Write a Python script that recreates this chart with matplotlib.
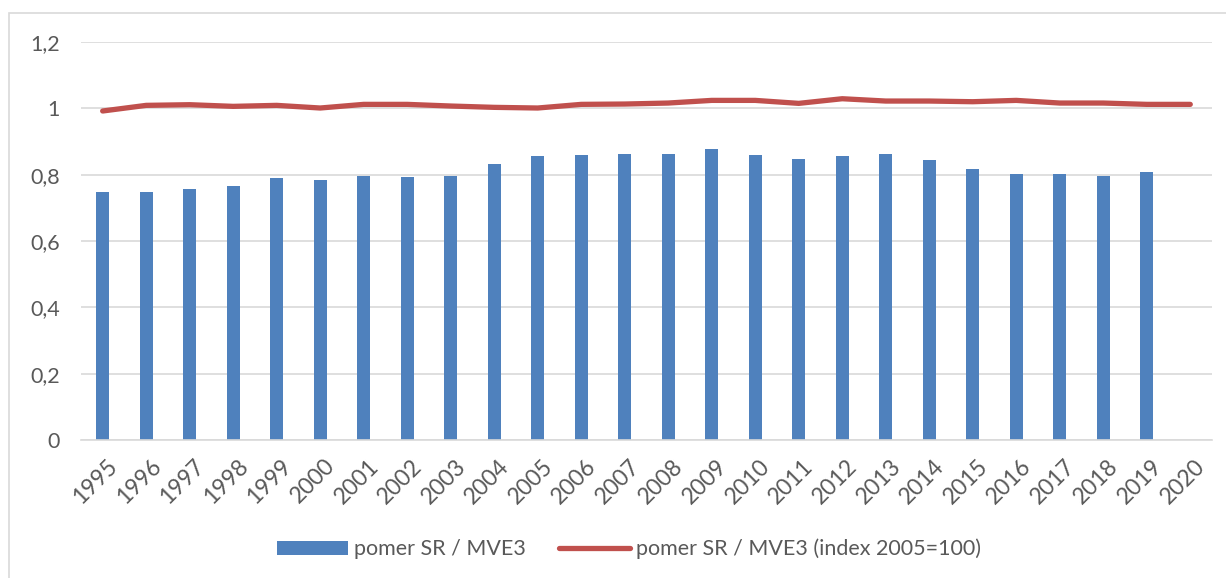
import matplotlib
matplotlib.use("Agg")
import matplotlib.pyplot as plt
from matplotlib.patches import Rectangle
import matplotlib.transforms as mtransforms

years = [str(y) for y in range(1995, 2021)]
ratio = [0.748, 0.747, 0.758, 0.765, 0.790, 0.783, 0.795, 0.794, 0.796, 0.833,
         0.857, 0.859, 0.862, 0.862, 0.877, 0.859, 0.847, 0.857, 0.863, 0.844,
         0.817, 0.801, 0.801, 0.795, 0.809, None]
index_line = [0.992, 1.009, 1.011, 1.006, 1.009, 1.001, 1.012, 1.012, 1.007, 1.003,
              1.001, 1.012, 1.013, 1.016, 1.024, 1.024, 1.015, 1.029, 1.022, 1.022,
              1.020, 1.024, 1.016, 1.016, 1.012, 1.012]
yticks = [0, 0.2, 0.4, 0.6, 0.8, 1.0, 1.2]
ytick_labels = ["0", "0,2", "0,4", "0,6", "0,8", "1", "1,2"]

label_bar = "pomer SR / MVE3"
label_line = "pomer SR / MVE3 (index 2005=100)"

plt.rcParams['font.family'] = ['Lato', 'DejaVu Sans']
text_color = "#595959"
grid_color = "#D9D9D9"

fig = plt.figure(figsize=(12.26, 5.78), dpi=100)
ax = fig.add_axes([0.066, 0.2388, 0.9226, 0.6885])

x = list(range(len(years)))
bx = [i for i, v in enumerate(ratio) if v is not None]
bv = [v for v in ratio if v is not None]
bars = ax.bar(bx, bv, width=0.3, color="#4F81BD", label=label_bar, zorder=2)
line, = ax.plot(x, index_line, color="#C0504D", lw=3.8, solid_capstyle='round',
                label=label_line, zorder=3)

ax.set_xlim(-0.5, len(years) - 0.5)
ax.set_ylim(0, 1.2)
ax.set_yticks(yticks)
ax.set_yticklabels(ytick_labels)
ax.set_xticks(x)
ax.set_xticklabels(years, rotation=45, ha='right', va='top', rotation_mode='anchor')
ax.tick_params(axis='y', length=0, labelsize=15.5, colors=text_color, pad=15)
ax.tick_params(axis='x', length=0, labelsize=16.5, colors=text_color, pad=11)
offset = mtransforms.ScaledTranslation(4 / 100, 0, fig.dpi_scale_trans)
for lab in ax.get_xticklabels():
    lab.set_transform(lab.get_transform() + offset)
ax.yaxis.grid(True, color=grid_color, lw=1.2, zorder=0)
ax.set_axisbelow(True)
for s in ['top', 'right', 'left']:
    ax.spines[s].set_visible(False)
ax.spines['bottom'].set_color(grid_color)
ax.spines['bottom'].set_linewidth(1.2)

leg = fig.legend([bars, line], [label_bar, label_line], loc='center',
                 bbox_to_anchor=(0.513, 0.05), ncol=2, frameon=False,
                 fontsize=15.5, handlelength=3.3, handleheight=0.6, columnspacing=1.5,
                 handletextpad=0.3, labelcolor=text_color)

fig.patches.append(Rectangle((9 / 1226, -0.1), 1.2, 1 - 13 / 578 + 0.1,
                             transform=fig.transFigure, fill=False,
                             edgecolor=grid_color, lw=1.2))

fig.savefig("out.png", dpi=100, facecolor='white')
